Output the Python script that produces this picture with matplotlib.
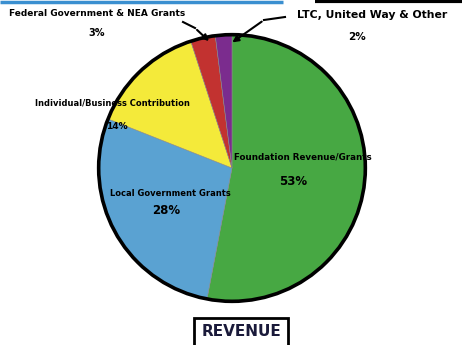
import matplotlib
matplotlib.use('Agg')
import matplotlib.pyplot as plt
from matplotlib.patches import Circle

# revenue breakdown (percent)
sources = ['Foundation Revenue/Grants', 'Local Government Grants',
           'Individual/Business Contribution', 'Federal Government & NEA Grants',
           'LTC, United Way & Other']
shares = [53, 28, 14, 3, 2]
colors = ['#47a843', '#5aa2d2', '#f4ea3a', '#c23230', '#7b2c8e']

W, H = 462, 345
fig = plt.figure(figsize=(W / 100, H / 100), dpi=100)
fig.patch.set_facecolor('white')

# pie axes in pixel coords: centre ~(232,168), radius ~135
cx, cy, r = 232, 168, 136
ax = fig.add_axes([(cx - r) / W, (H - cy - r) / H, 2 * r / W, 2 * r / H])
wedges, _ = ax.pie(shares, colors=colors, startangle=90, counterclock=False,
                   radius=1.0, wedgeprops=dict(linewidth=0.4, edgecolor='#888888'))
ax.add_patch(Circle((0, 0), 1.0, fill=False, edgecolor='black', linewidth=2.6, zorder=5))
ax.set_xlim(-1.02, 1.02)
ax.set_ylim(-1.02, 1.02)
ax.set_aspect('equal')
ax.axis('off')

fnt = dict(family=['DejaVu Sans'], fontweight='bold',
           color='black', ha='center', va='center')

def px(x, y):
    return x / W, 1 - y / H

# labels placed in figure pixels
fig.text(*px(97, 14), sources[3], fontsize=6.5, **fnt)
fig.text(*px(97, 33), '%d%%' % shares[3], fontsize=7, **fnt)
fig.text(*px(372, 15), sources[4], fontsize=7.8, **fnt)
fig.text(*px(357, 37), '%d%%' % shares[4], fontsize=7.5, **fnt)
fig.text(*px(112, 103), sources[2], fontsize=6, **fnt)
fig.text(*px(117, 127), '%d%%' % shares[2], fontsize=6.5, **fnt)
fig.text(*px(303, 157), sources[0], fontsize=6.3, **fnt)
fig.text(*px(293, 181), '%d%%' % shares[0], fontsize=8.5, **fnt)
fig.text(*px(170, 194), sources[1], fontsize=6, **fnt)
fig.text(*px(166, 211), '%d%%' % shares[1], fontsize=8.5, **fnt)

# leader arrows for the two thin slices
overlay = fig.add_axes([0, 0, 1, 1])
overlay.set_xlim(0, W)
overlay.set_ylim(H, 0)
overlay.axis('off')
overlay.plot([183, 195], [22, 28], color='black', lw=1.5)
overlay.annotate('', xy=(211, 43), xytext=(195, 28),
                 arrowprops=dict(arrowstyle='-|>', color='black', lw=1.5, mutation_scale=9))
overlay.plot([285, 264], [17, 20], color='black', lw=1.5)
overlay.annotate('', xy=(230, 44), xytext=(264, 20),
                 arrowprops=dict(arrowstyle='-|>', color='black', lw=1.5, mutation_scale=9))

# top rules
overlay.plot([0, 283], [1.5, 1.5], color='#3a8fd0', lw=2.5, solid_capstyle='butt')
overlay.plot([315, 462], [1.0, 1.0], color='black', lw=3, solid_capstyle='butt')

# title box
fig.text(*px(241, 332), 'REVENUE', fontsize=11, family=['DejaVu Sans'],
         fontweight='bold', color='#1a1a3a', ha='center', va='center',
         bbox=dict(boxstyle='square,pad=0.45', facecolor='white', edgecolor='black', linewidth=2))

fig.savefig('out.png', dpi=100, facecolor='white')
